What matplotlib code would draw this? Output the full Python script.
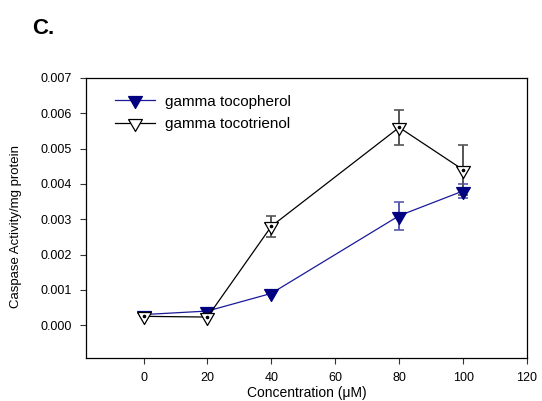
import matplotlib
matplotlib.use("Agg")
import matplotlib.pyplot as plt

plt.rcParams['font.family'] = ['Liberation Sans', 'DejaVu Sans']

conc = [0, 20, 40, 80, 100]
tocopherol = [0.0003, 0.0004, 0.0009, 0.0031, 0.0038]
tocopherol_err = [0, 0, 0, 0.0004, 0.0002]
tocotrienol = [0.00025, 0.00023, 0.0028, 0.0056, 0.0044]
tocotrienol_err = [0, 0, 0.0003, 0.0005, 0.0007]

x_ticks = [0, 20, 40, 60, 80, 100, 120]
y_ticks = [0.000, 0.001, 0.002, 0.003, 0.004, 0.005, 0.006, 0.007]

# downward triangle centred on its centroid
tri = [(-1, 0.577), (1, 0.577), (0, -1.155), (-1, 0.577)]

fig = plt.figure(figsize=(5.42, 4.01), dpi=100)
ax = fig.add_axes([0.1587, 0.1072, 0.8136, 0.6983])

ax.errorbar(conc, tocopherol, yerr=tocopherol_err, fmt='none', ecolor='#5a5ab0',
            elinewidth=1.4, capsize=3.5, capthick=1.2, zorder=2)
ax.errorbar(conc, tocotrienol, yerr=tocotrienol_err, fmt='none', ecolor='#555555',
            elinewidth=1.4, capsize=3.5, capthick=1.2, zorder=2)

ax.plot(conc, tocopherol, color='#1a1a99', lw=0.9, marker=tri, markersize=11.5,
        markerfacecolor='#000080', markeredgecolor='#000080', markeredgewidth=0.9,
        zorder=4, label='gamma tocopherol')
ax.plot(conc, tocotrienol, color='black', lw=0.9, marker=tri, markersize=11.5,
        markerfacecolor='white', markeredgecolor='black', markeredgewidth=0.9,
        zorder=5, label='gamma tocotrienol')
ax.plot(conc, tocotrienol, ls='none', marker='o', markersize=1.6, color='black', zorder=6)

ax.set_xlim(-18, 120)
ax.set_ylim(-0.00093, 0.007)
ax.set_xticks(x_ticks)
ax.set_yticks(y_ticks)
ax.set_yticklabels([f"{v:.3f}" for v in y_ticks])
ax.tick_params(labelsize=9, length=4, width=0.8, direction='out', color='#333333')
ax.tick_params(axis='x', pad=6)
ax.tick_params(axis='y', pad=6)
for s in ax.spines.values():
    s.set_linewidth(0.9)

ax.set_xlabel('Concentration (\u03bcM)', fontsize=10, labelpad=1.5)
ax.set_ylabel('Caspase Activity/mg protein', fontsize=9.5)
ax.yaxis.set_label_coords(-0.145, 0.47)

ax.legend(loc='upper left', frameon=False, fontsize=11,
          bbox_to_anchor=(0.066, 0.94), handlelength=2.6, handletextpad=0.65,
          labelspacing=0.55, borderaxespad=0, borderpad=0)

fig.text(0.06, 0.915, 'C.', fontsize=16, fontweight='bold')

fig.savefig('out.png', dpi=100)
